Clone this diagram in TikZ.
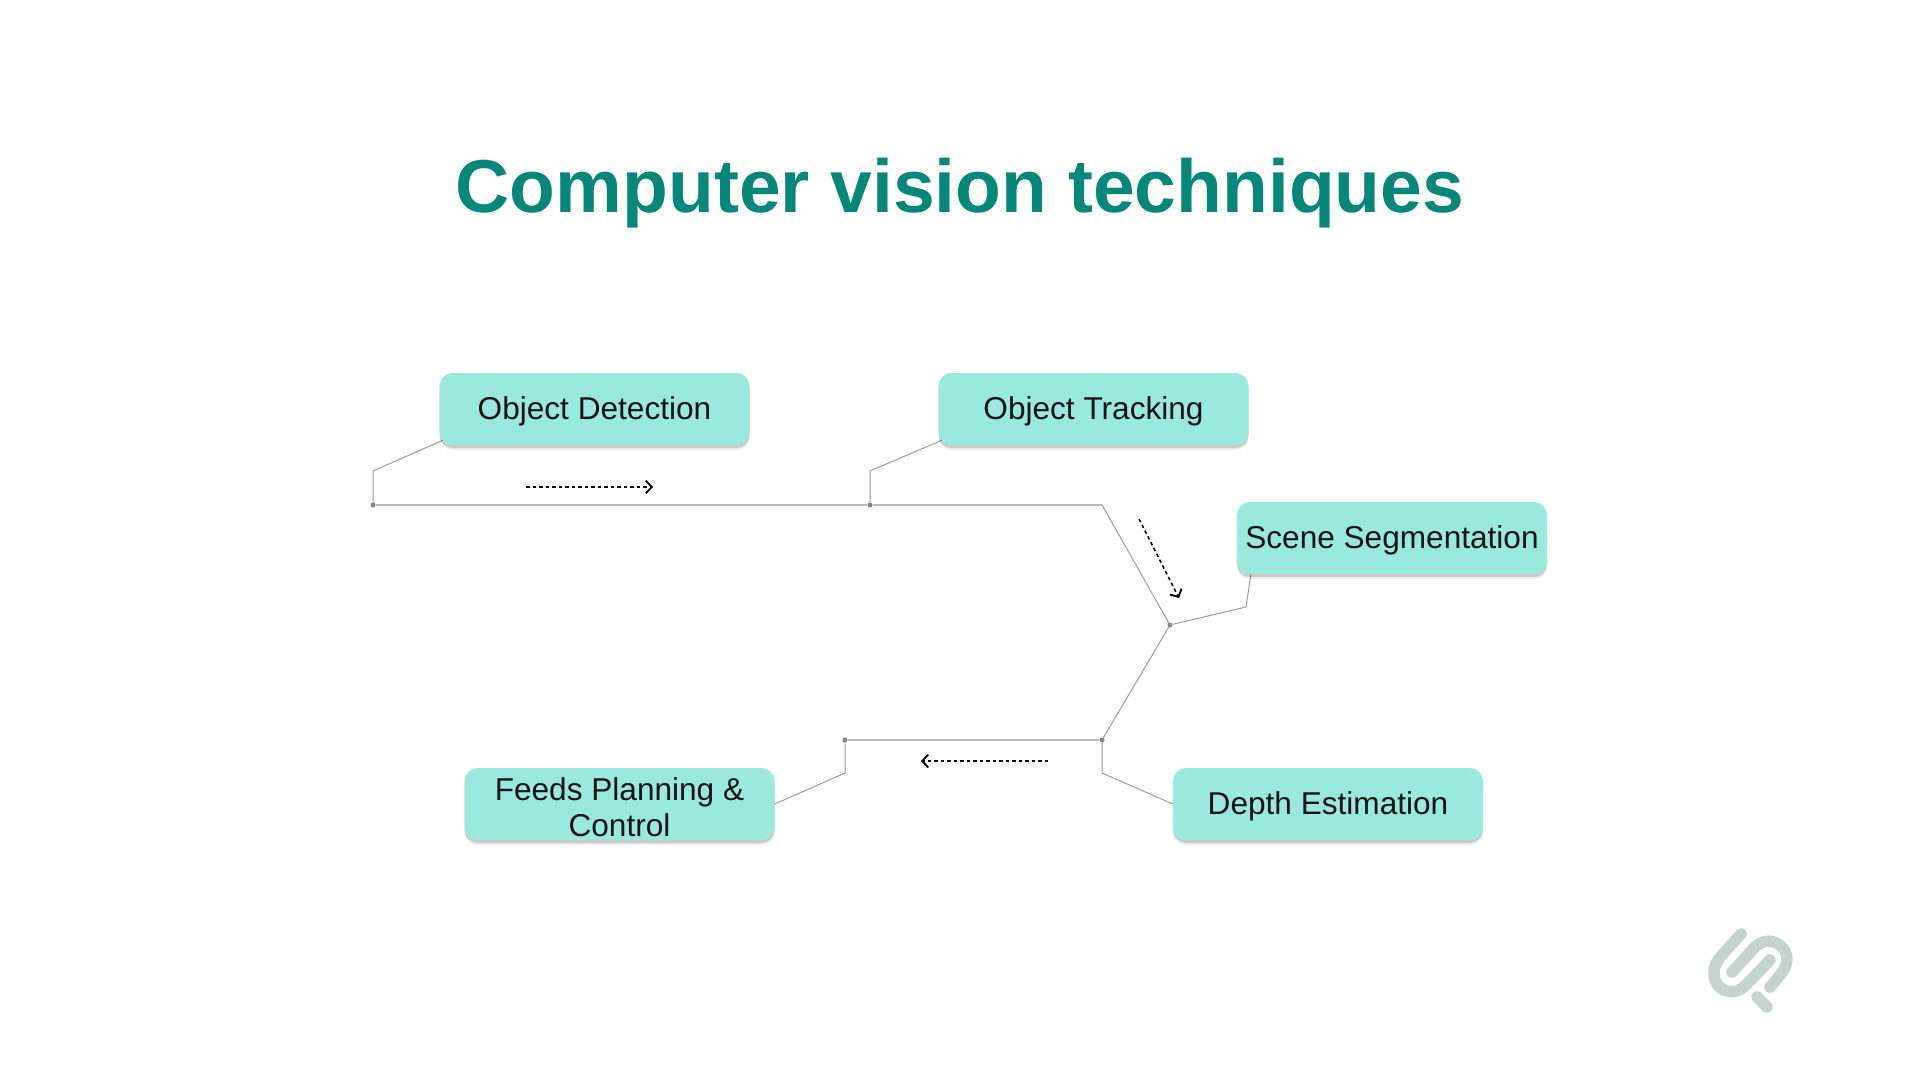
\documentclass[tikz,border=0pt]{standalone}
\usepackage{fontspec}
\setmainfont{Liberation Sans}
\usetikzlibrary{arrows.meta,shadows,backgrounds,calc}

\definecolor{titlegreen}{HTML}{07877A}
\definecolor{boxteal}{HTML}{9AE9DF}
\definecolor{logogrey}{HTML}{C5D3CF}

\tikzset{
  stepbox/.style={draw=none,fill=boxteal,rounded corners=13pt,minimum width=310pt,minimum height=72pt,
    inner sep=0pt,align=center,text=black!92,font=\fontsize{31.6}{35.5}\selectfont,
    text height=28pt,text depth=6.6pt,
    general shadow={shadow xshift=0pt,shadow yshift=-5pt,opacity=.07,fill=black},
    general shadow={shadow xshift=0pt,shadow yshift=-3pt,opacity=.14,fill=black}},
  junction/.style={circle,fill=black!48,minimum size=5pt,inner sep=0pt},
  mainline/.style={draw=black!27,line width=1.4pt},
  stubline/.style={draw=black!38,line width=1pt},
  flowarrow/.style={line width=1.5pt,dash pattern=on 3.5pt off 3pt,-{Straight Barb[length=6pt,width=13pt,line width=1.8pt]}},
  logostroke/.style={draw=logogrey,line width=11.5pt,line cap=round}
}

\begin{document}
\begin{tikzpicture}[x=1pt,y=-1pt]
\useasboundingbox (0,0) rectangle (1920,1080);

\node (title) at (960,193.5) {\fontsize{75}{80}\selectfont\bfseries\color{titlegreen}Computer vision techniques};

\node[stepbox] (detect) at (594.5,409) {Object Detection};
\node[stepbox] (track) at (1093.5,409) {Object Tracking};
\node[stepbox] (scene) at (1392,538) {Scene Segmentation};
\node[stepbox] (depth) at (1328,804) {Depth Estimation};
\node[stepbox,text height=64pt,text depth=0pt] (feeds) at (619.5,804) {Feeds Planning \&\\Control};

\node[junction] (dota) at (373,505) {};
\node[junction] (dotb) at (870,505) {};
\node[junction] (dotc) at (1170,625) {};
\node[junction] (dotd) at (1102,740) {};
\node[junction] (dote) at (845,740) {};
\coordinate (bend) at (1102,505);
\coordinate (kneea) at (373,471);
\coordinate (kneeb) at (870,471);
\coordinate (kneec) at (1246,607);
\coordinate (kneed) at (1102,773);
\coordinate (kneee) at (845,773);

% lines go behind the boxes
\begin{scope}[on background layer]
\fill[white] (0,0) rectangle (1920,1080);
\draw[mainline] (dota) -- (dotb) -- (bend);
\draw[stubline] (bend) -- (dotc) -- (dotd);
\draw[mainline] (dotd) -- (dote);
\draw[stubline] (dota) -- (kneea) -- ([shift={(6,-6)}]detect.south west);
\draw[stubline] (dotb) -- (kneeb) -- ([shift={(6,-6)}]track.south west);
\draw[stubline] (dotc) -- (kneec) -- ([shift={(15,-6)}]scene.south west);
\draw[stubline] (dotd) -- (kneed) -- (depth.west);
\draw[stubline] (dote) -- (kneee) -- (feeds.east);
\end{scope}

% direction arrows
\coordinate (flowa) at (526,487);
\coordinate (flowb) at (653,487);
\coordinate (flowc) at (1139,519);
\coordinate (flowd) at (1179,598);
\coordinate (flowe) at (1048,761);
\coordinate (flowf) at (921,761);
\draw[flowarrow] (flowa) -- (flowb);
\draw[flowarrow] (flowc) -- (flowd);
\draw[flowarrow] (flowe) -- (flowf);

% logo
\draw[logostroke] (1741,934) -- (1722,955) .. controls (1709,969) and (1713,985) .. (1724,990) .. controls (1734,994) and (1741,990) .. (1747,984) -- (1770,960);
\draw[logostroke] (1732,972) -- (1755,947) .. controls (1766,937) and (1779,941) .. (1785,951) .. controls (1789,960) and (1786,968) .. (1781,974) -- (1770,987);
\draw[logostroke] (1757,997) -- (1767,1007);
\end{tikzpicture}
\end{document}
